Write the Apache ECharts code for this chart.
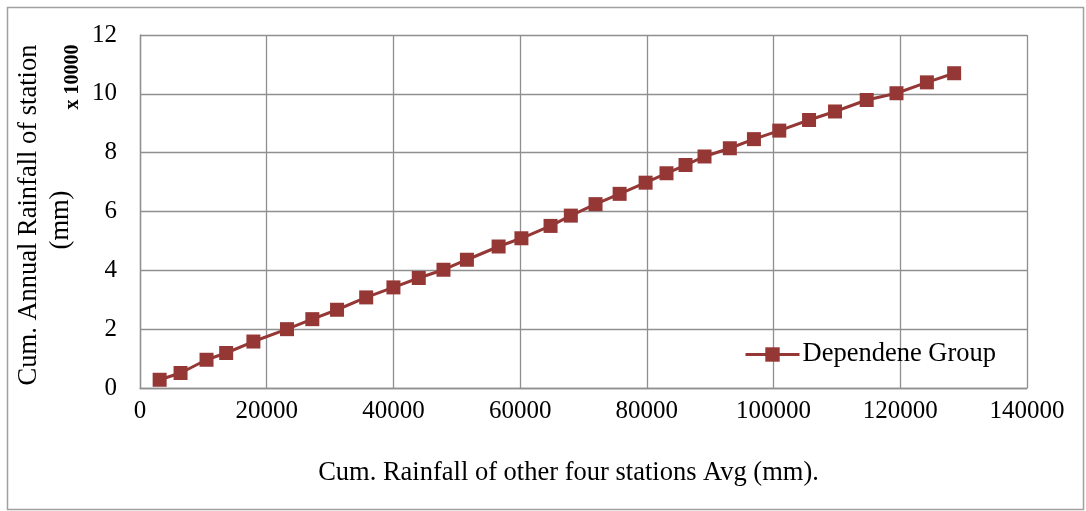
<!DOCTYPE html>
<html>
<head>
<meta charset="utf-8">
<script src="https://cdn.jsdelivr.net/npm/echarts@6/dist/echarts.min.js"></script>
<style>
html,body{margin:0;padding:0;background:#fff;}
#c{width:1086px;height:511px;}
</style>
</head>
<body>
<div id="c"></div>
<script>
// Data (x: cumulative avg of other four stations, mm; y: cumulative station rainfall, x 10000 mm)
const xValues = [3100, 6400, 10500, 13600, 17900, 23200, 27200, 31100, 35700, 40000, 44000, 47900,
  51600, 56600, 60200, 64800, 68000, 71900, 75700, 79800, 83100, 86100, 89100, 93100, 96900,
  100900, 105600, 109700, 114700, 119400, 124200, 128500];
const yValues = [0.28, 0.51, 0.96, 1.19, 1.58, 2.00, 2.34, 2.66, 3.08, 3.42, 3.74, 4.02,
  4.36, 4.81, 5.09, 5.51, 5.86, 6.25, 6.60, 6.98, 7.30, 7.58, 7.87, 8.15, 8.46,
  8.75, 9.11, 9.40, 9.79, 10.02, 10.39, 10.70];
const seriesName = 'Dependene Group';
const xTitle = 'Cum. Rainfall of other four stations Avg (mm).';
const yTitleLines = ['Cum. Annual Rainfall of station', '(mm)'];
const yUnitNote = 'x 10000';

const FONT = '"Liberation Serif", "Times New Roman", serif';
const chart = echarts.init(document.getElementById('c'), null, {renderer: 'canvas'});
const pts = xValues.map((x, i) => [x, yValues[i]]);
const gridColor = '#8f8f8f';
const red = '#953735';

chart.setOption({
  animation: false,
  backgroundColor: '#fff',
  grid: {left: 140, right: 59, top: 35, bottom: 123, containLabel: false},
  xAxis: {
    type: 'value', min: 0, max: 140000, interval: 20000,
    axisLine: {show: true, lineStyle: {color: gridColor, width: 1.3}},
    axisTick: {show: false},
    splitLine: {show: true, lineStyle: {color: gridColor, width: 1.3}},
    axisLabel: {color: '#000', fontFamily: FONT, fontSize: 25, margin: 11,
      formatter: v => String(v)},
    name: xTitle, nameLocation: 'middle', nameGap: 72,
    nameTextStyle: {color: '#000', fontFamily: FONT, fontSize: 26.5, padding: [0, 30, 0, 0]}
  },
  yAxis: {
    type: 'value', min: 0, max: 12, interval: 2,
    axisLine: {show: true, lineStyle: {color: gridColor, width: 1.3}},
    axisTick: {show: false},
    splitLine: {show: true, lineStyle: {color: gridColor, width: 1.3}},
    axisLabel: {color: '#000', fontFamily: FONT, fontSize: 25, margin: 23}
  },
  legend: {
    show: true, left: 739, top: 336, orient: 'horizontal',
    itemWidth: 54, itemHeight: 18, itemGap: 4,
    lineStyle: {width: 3, color: red},
    textStyle: {color: '#000', fontFamily: FONT, fontSize: 26.5, padding: [0, 0, 0, -2]},
    data: [seriesName]
  },
  graphic: [
    {type: 'rect', left: 5, top: 5, shape: {width: 1076, height: 502},
      style: {fill: 'none', stroke: '#a0a0a0', lineWidth: 1.5}, silent: true, z: -1},
    {type: 'text', x: 29, y: 215, rotation: Math.PI / 2,
      style: {text: yTitleLines[0], font: '26.5px ' + FONT, fill: '#000', align: 'center', verticalAlign: 'middle'}},
    {type: 'text', x: 61, y: 220, rotation: Math.PI / 2,
      style: {text: yTitleLines[1], font: '26.5px ' + FONT, fill: '#000', align: 'center', verticalAlign: 'middle'}},
    {type: 'text', x: 73, y: 77, rotation: Math.PI / 2,
      style: {text: yUnitNote, font: 'bold 20px ' + FONT, fill: '#000', align: 'center', verticalAlign: 'middle'}}
  ],
  series: [{
    name: seriesName, type: 'line', data: pts,
    symbol: 'rect', symbolSize: 14,
    lineStyle: {color: red, width: 3},
    itemStyle: {color: red},
    z: 3
  }]
});
</script>
</body>
</html>
